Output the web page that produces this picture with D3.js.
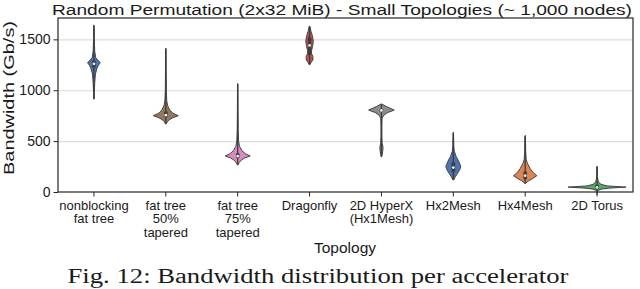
<!DOCTYPE html>
<html>
<head>
  <script src="https://d3js.org/d3.v7.min.js"></script>
  <style>
    body { margin: 0; background: #fff; }
    text { font-family: "Liberation Sans", Arial, sans-serif; fill: #1a1a1a; }
  </style>
</head>
<body>
  <svg id="chart" width="640" height="289"></svg>
  <script>
    // categories + tick labels (multi-line)
    const topologies = ["nonblocking fat tree", "fat tree 50% tapered", "fat tree 75% tapered", "Dragonfly",
      "2D HyperX (Hx1Mesh)", "Hx2Mesh", "Hx4Mesh", "2D Torus"];
    const tickLabels = [["nonblocking", "fat tree"], ["fat tree", "50%", "tapered"], ["fat tree", "75%", "tapered"],
      ["Dragonfly"], ["2D HyperX", "(Hx1Mesh)"], ["Hx2Mesh"], ["Hx4Mesh"], ["2D Torus"]];
    const yTicks = [0, 500, 1000, 1500];

    // violin outlines: [bandwidth, relative density]
    const nonblockingProfile = [[1640, 0.2], [1500, 0.4], [1380, 0.8], [1320, 1.8], [1290, 4.5], [1270, 6.3], [1245, 4.5],
      [1210, 2.8], [1160, 1.5], [1080, 0.8], [980, 0.4], [912, 0.2]];
    const fatTree50Profile = [[1410, 0.2], [1200, 0.3], [1000, 0.5], [900, 0.9], [850, 1.8], [805, 4], [775, 7],
      [750, 12.5], [730, 7], [710, 3.5], [690, 1.5], [668, 0.3]];
    const fatTree75Profile = [[1065, 0.2], [800, 0.3], [600, 0.5], [500, 0.9], [450, 1.8], [405, 4.2], [375, 8],
      [354, 12.5], [335, 7], [312, 3.5], [290, 1.5], [265, 0.3]];
    const dragonflyProfile = [[1630, 0.3], [1580, 1.4], [1530, 3], [1480, 3.8], [1430, 3], [1390, 2], [1360, 2],
      [1330, 3.4], [1300, 3.4], [1270, 1.4], [1250, 0.3]];
    const hyperxProfile = [[865, 0.3], [840, 5], [805, 12.8], [780, 6], [752, 2], [720, 0.6], [650, 0.4], [550, 0.4],
      [480, 0.7], [440, 1.6], [400, 1.3], [370, 0.8], [345, 0.2]];
    const hx2Profile = [[585, 0.2], [450, 0.5], [400, 1.0], [350, 2.8], [300, 5.5], [250, 7.5], [220, 6.5],
      [180, 4], [150, 2], [118, 0.3]];
    const hx4Profile = [[555, 0.2], [400, 0.5], [320, 1.0], [280, 2.3], [230, 5], [190, 8], [160, 11.7],
      [130, 7], [110, 3.5], [92, 1], [82, 0.3]];
    const torusProfile = [[250, 0.2], [150, 0.4], [100, 1.2], [75, 4], [60, 10], [48, 29], [38, 12], [28, 4],
      [15, 1], [5, 0.3]];
    const profiles = [nonblockingProfile, fatTree50Profile, fatTree75Profile, dragonflyProfile,
      hyperxProfile, hx2Profile, hx4Profile, torusProfile];

    // inner box: [whisker low, q1, median, q3, whisker high]
    const boxStats = [[920, 1225, 1260, 1290, 1630], [680, 735, 755, 790, 1410], [270, 335, 352, 380, 1060],
      [1255, 1345, 1440, 1520, 1625], [350, 790, 802, 815, 860], [120, 195, 240, 290, 580],
      [85, 125, 160, 200, 550], [-25, 30, 45, 70, 250]];

    const palette = ["#4c72b0", "#937860", "#da8bc3", "#c44e52", "#8c8c8c", "#4c72b0", "#dd8452", "#55a868"];

    const svg = d3.select("svg#chart");
    const margins = { top: 18, right: 7, bottom: 97, left: 58 };
    const width = +svg.attr("width");
    const height = +svg.attr("height");
    const plotW = width - margins.left - margins.right;
    const plotH = height - margins.top - margins.bottom;

    const xScale = d3.scaleBand()
      .domain(topologies)
      .range([margins.left, margins.left + plotW]);
    const yScale = d3.scaleLinear()
      .domain([0, 1710])
      .range([margins.top + plotH, margins.top]);
    const widthScale = d3.scaleLinear().domain([0, 29]).range([0, 29]);

    // gridlines
    svg.append("g")
      .attr("transform", `translate(${margins.left},0)`)
      .call(d3.axisLeft(yScale).tickValues(yTicks.slice(1)).tickSize(-plotW).tickFormat(""))
      .call(g => g.select(".domain").remove())
      .call(g => g.selectAll("line").attr("stroke", "#dddddd").attr("stroke-width", 1.2));

    // violins
    const area = d3.area()
      .y(d => yScale(d[0]));

    profiles.forEach((prof, i) => {
      const cx = xScale(topologies[i]) + xScale.bandwidth() / 2;
      area.x0(d => cx - widthScale(d[1])).x1(d => cx + widthScale(d[1]));
      svg.append("path")
        .attr("d", area(prof))
        .attr("fill", palette[i])
        .attr("stroke", "#454545")
        .attr("stroke-width", 1.0)
        .attr("stroke-linejoin", "round");

      const [lo, q1, med, q3, hi] = boxStats[i];
      svg.append("line")
        .attr("x1", cx).attr("x2", cx)
        .attr("y1", yScale(lo)).attr("y2", yScale(hi))
        .attr("stroke", "#3d3d3d").attr("stroke-width", 1.3);
      svg.append("line")
        .attr("x1", cx).attr("x2", cx)
        .attr("y1", yScale(q1)).attr("y2", yScale(q3))
        .attr("stroke", "#3d3d3d").attr("stroke-width", 3.6);
      svg.append("circle")
        .attr("cx", cx).attr("cy", yScale(med))
        .attr("r", 1.4).attr("fill", "#eeeeee");
    });

    // frame
    svg.append("rect")
      .attr("x", margins.left).attr("y", margins.top)
      .attr("width", plotW).attr("height", plotH)
      .attr("fill", "none").attr("stroke", "#262626").attr("stroke-width", 1.2);

    // y axis
    const yAxis = svg.append("g")
      .attr("transform", `translate(${margins.left},0)`)
      .call(d3.axisLeft(yScale).tickValues(yTicks).tickFormat(d3.format("d")).tickSize(4.5).tickPadding(3));
    yAxis.select(".domain").remove();
    yAxis.selectAll("line").attr("stroke", "#262626");
    yAxis.selectAll("text").style("font-size", "14px").attr("fill", "#1a1a1a")
      .style("font-family", "'Liberation Sans', Arial, sans-serif");

    // x axis
    const xAxis = svg.append("g")
      .attr("transform", `translate(0,${margins.top + plotH})`)
      .call(d3.axisBottom(xScale).tickSize(4.5).tickFormat(""));
    xAxis.select(".domain").remove();
    xAxis.selectAll("line").attr("stroke", "#262626");

    topologies.forEach((t, i) => {
      const cx = xScale(t) + xScale.bandwidth() / 2;
      const txt = svg.append("text")
        .attr("text-anchor", "middle")
        .style("font-size", "13px");
      tickLabels[i].forEach((line, j) => {
        txt.append("tspan").attr("x", cx).attr("y", 209.5 + j * 13.5).text(line);
      });
    });

    // titles
    svg.append("text")
      .attr("x", 342).attr("y", 14.5)
      .attr("text-anchor", "middle")
      .attr("textLength", 580).attr("lengthAdjust", "spacingAndGlyphs")
      .style("font-size", "15.5px")
      .text("Random Permutation (2x32 MiB) - Small Topologies (~ 1,000 nodes)");

    svg.append("text")
      .attr("transform", `translate(14,98) rotate(-90)`)
      .attr("text-anchor", "middle")
      .attr("textLength", 154).attr("lengthAdjust", "spacingAndGlyphs")
      .style("font-size", "15px")
      .text("Bandwidth (Gb/s)");

    svg.append("text")
      .attr("x", 345).attr("y", 253)
      .attr("text-anchor", "middle")
      .style("font-size", "15.5px")
      .text("Topology");

    svg.append("text")
      .attr("x", 318).attr("y", 283)
      .attr("text-anchor", "middle")
      .attr("textLength", 501).attr("lengthAdjust", "spacingAndGlyphs")
      .style("font-family", "'Liberation Serif', 'Times New Roman', serif")
      .style("font-size", "20px")
      .text("Fig. 12: Bandwidth distribution per accelerator");
  </script>
</body>
</html>
